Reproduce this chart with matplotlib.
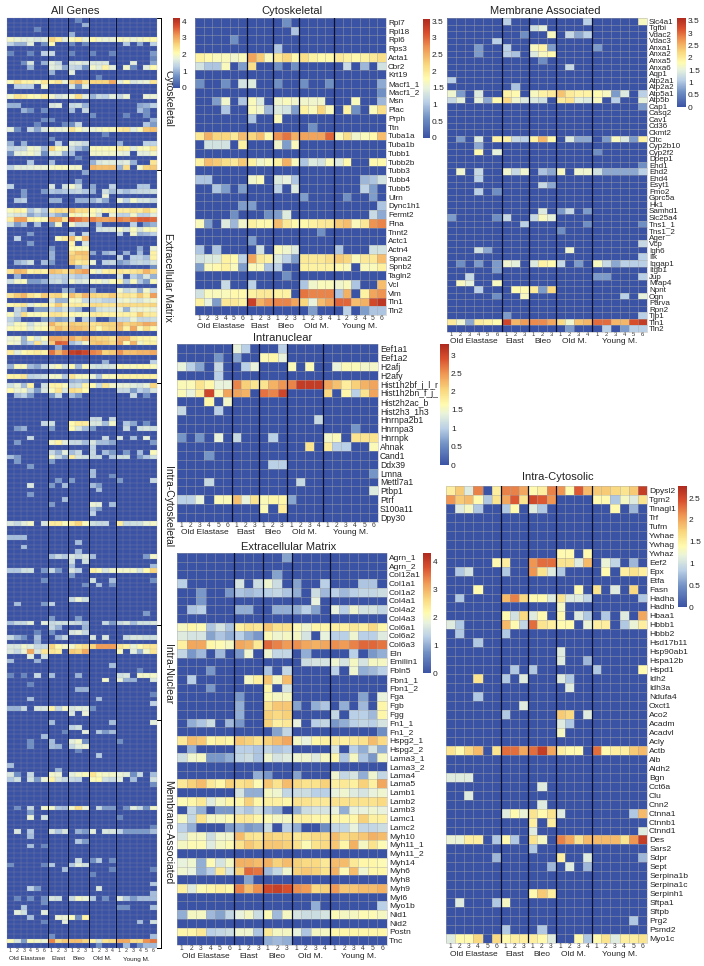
import matplotlib
matplotlib.use('Agg')
import matplotlib.pyplot as plt
from matplotlib.colors import LinearSegmentedColormap, Normalize
from matplotlib.transforms import Bbox
import numpy as np

plt.rcParams['font.family'] = ['Liberation Sans', 'DejaVu Sans']

W, H = 704, 966
Z = [0] * 22

group_names = ['Old Elastase', 'Elast', 'Bleo', 'Old M.', 'Young M.']
group_sizes = [6, 3, 3, 4, 6]

cyto_genes = ['Rpl7', 'Rpl18', 'Rpl6', 'Rps3', 'Acta1', 'Cbr2', 'Krt19', 'Macf1_1', 'Macf1_2', 'Msn', 'Plac',
              'Prph', 'Ttn', 'Tuba1a', 'Tuba1b', 'Tubb1', 'Tubb2b', 'Tubb3', 'Tubb4', 'Tubb5', 'Ulrn', 'Dync1h1',
              'Fermt2', 'Flna', 'Tnnt2', 'Actc1', 'Actn4', 'Spna2', 'Spnb2', 'Tagln2', 'Vcl', 'Vim', 'Tln1', 'Tln2']
cyto_values = [
    [0,0,0,0,0,0, 0,0,0, 0,.6,0, 0,0,0,0, 0,0,0,0,0,0],
    [0,0,0,0,0,0, 0,0,0, 0,0,1.0, 0,0,0,0, 0,0,0,0,0,0],
    [0,0,0,0,.6,0, 0,0,0, 0,0,0, 0,0,0,0, 0,0,0,0,0,0],
    [0,0,0,0,0,0, 0,0,0, 1.0,0,0, 0,0,0,0, 0,0,0,0,0,0],
    [1.9,1.8,1.7,1.7,1.6,1.7, 2.6,2.3,1.7, 2.0,2.2,1.8, 2.1,1.9,1.8,1.8, 2.0,1.9,1.8,1.9,2.0,2.1],
    [1.3,1.0,1.0,1.7,0,.7, 2.1,0,0, .6,0,.6, 0,0,0,0, 0,1.2,0,.9,0,1.3],
    Z,
    [.6,0,0,.6,0,1.3, 1.4,0,0, .6,0,0, .6,0,0,.6, 0,0,0,0,0,.8],
    [0,0,0,0,0,0, 0,0,0, 0,0,0, 0,0,0,0, 0,0,0,0,0,.6],
    [0,0,.7,1.6,0,1.0, 1.7,1.4,0, 1.6,1.7,1.6, 1.6,1.6,1.6,0, 0,0,1.7,0,0,.9],
    [0,0,0,1.0,0,0, 1.7,1.6,.9, 1.4,1.3,.7, 1.9,1.7,2.2,1.7, 0,1.9,.6,0,1.7,2.1],
    [0,0,0,0,0,0, 1.0,0,0, 1.7,0,0, 0,0,0,0, 0,0,0,0,0,0],
    [0,0,0,0,0,0, 0,0,0, 0,0,0, 0,.6,0,0, 0,0,0,0,0,0],
    [2.0,2.5,2.2,2.2,2.0,2.4, 2.2,2.4,1.8, 2.7,2.9,2.5, 2.6,2.6,2.6,3.0, 1.7,2.1,1.6,1.7,1.8,2.4],
    [0,1.3,1.3,1.3,0,1.9, 0,0,0, 1.6,.7,1.7, 0,0,0,0, 0,0,0,0,0,0],
    Z,
    [1.9,2.4,2.3,2.1,2.0,2.3, 1.9,1.6,1.7, 1.9,2.5,1.7, 1.0,1.4,1.3,1.7, 1.4,1.8,0,0,1.8,1.8],
    Z,
    [1.0,1.0,0,0,0,0, 1.6,1.7,0, 1.4,1.5,1.0, 0,0,0,0, 0,0,0,.9,1.0,1.3],
    [0,0,1.0,.7,0,.7, 0,0,0, 1.1,0,1.4, 0,0,0,0, 0,0,0,1.1,.7,0],
    [0,0,0,0,0,0, 0,0,0, 0,0,0, .7,0,0,0, 0,.6,0,0,.7,0],
    [0,0,0,0,0,.7, .7,0,0, 0,0,0, 0,0,0,0, 0,0,0,0,0,1.0],
    [0,0,0,0,.6,0, 0,0,.6, .7,1.4,0, 0,0,0,0, 0,0,0,0,1.2,.8],
    [1.7,.7,0,1.4,.9,1.6, 1.9,1.8,1.8, 2.4,2.0,1.8, 1.8,1.9,2.0,2.0, 2.3,2.4,1.7,2.0,2.7,2.8],
    [0,0,0,0,0,0, 0,0,0, 0,0,0, 0,0,.6,0, 0,0,0,0,0,0],
    [0,0,0,0,0,0, .7,0,0, 0,0,0, 0,0,0,0, 0,0,0,0,0,0],
    [1.0,0,1.0,0,0,0, 0,1.3,0, 1.7,1.6,1.4, 0,0,0,0, 1.0,0,0,0,1.3,1.3],
    [1.3,1.4,1.4,1.9,1.8,1.1, 2.6,2.0,1.9, 1.4,1.1,.7, 2.0,2.0,2.0,2.1, 2.3,2.2,1.7,2.0,2.0,2.4],
    [.7,1.7,1.8,1.9,1.7,.7, 1.7,1.7,1.0, 1.1,0,0, 1.9,1.9,1.9,1.9, 1.8,1.7,0,1.7,1.7,1.9],
    [0,0,0,0,0,0, 0,0,0, 0,.6,0, 0,0,0,0, 0,0,0,0,0,0],
    [0,0,0,1.2,0,0, 1.1,0,0, 0,0,0, 1.0,1.6,1.7,1.7, 1.6,1.7,1.0,0,0,2.4],
    [1.3,1.7,1.7,1.7,1.8,1.8, 1.9,2.0,2.0, 1.9,1.9,0, 2.9,2.8,2.8,2.8, 1.0,2.5,0,1.9,2.6,2.7],
    [1.9,1.5,.7,2.0,2.0,1.9, 3.3,2.5,2.7, 2.8,2.8,2.6, 2.2,1.5,2.4,2.6, 3.0,3.0,2.4,2.5,3.2,3.4],
    [0,0,0,0,0,0, 0,0,0, 0,0,0, 0,.7,0,0, 0,1.1,0,.7,1.0,1.0],
]

ecm_genes = ['Agrn_1', 'Agrn_2', 'Col12a1', 'Col1a1', 'Col1a2', 'Col4a1', 'Col4a2', 'Col4a3', 'Col6a1', 'Col6a2',
             'Col6a3', 'Eln', 'Emilin1', 'Fbln5', 'Fbn1_1', 'Fbn1_2', 'Fga', 'Fgb', 'Fgg', 'Fn1_1', 'Fn1_2',
             'Hspg2_1', 'Hspg2_2', 'Lama3_1', 'Lama3_2', 'Lama4', 'Lama5', 'Lamb1', 'Lamb2', 'Lamb3', 'Lamc1',
             'Lamc2', 'Myh10', 'Myh11_1', 'Myh11_2', 'Myh14', 'Myh6', 'Myh8', 'Myh9', 'Myl6', 'Myo1b', 'Nid1',
             'Nid2', 'Postn', 'Tnc']
ecm_values = [
    [0,0,0,0,0,0, 0,0,0, 0,0,.9, 0,0,0,0, 0,0,0,0,0,0],
    Z,
    [0,0,0,0,0,0, 0,0,0, 0,.9,0, 0,0,0,0, 0,0,0,0,0,0],
    [1.3,0,0,0,0,0, 1.6,0,1.5, 1.9,1.5,0, .9,0,0,1.3, 0,0,0,1.2,1.2,0],
    [0,0,.8,0,0,.8, 1.2,1.1,1.2, 1.3,1.4,1.2, 1.0,0,1.5,1.1, 1.3,1.1,1.3,1.4,1.4,1.5],
    [0,0,.8,0,0,0, 0,0,0, 0,0,0, 0,0,1.8,0, 0,0,0,0,0,0],
    [0,1.2,1.3,0,0,0, 1.0,1.0,0, 0,1.0,1.0, 1.0,1.3,.9,0, 1.8,1.3,1.9,1.6,1.6,1.4],
    Z,
    [2.0,2.2,2.1,1.2,1.6,1.2, 2.3,2.5,2.4, 2.8,2.5,2.5, 2.1,1.9,2.2,2.2, 2.3,2.3,2.4,2.3,2.6,2.2],
    [1.7,1.6,1.6,.9,1.2,1.0, 1.3,1.0,.8, 2.1,1.9,2.0, 2.0,1.6,0,1.8, 1.3,1.3,1.9,1.3,1.3,1.7],
    [2.3,3.1,3.1,2.2,2.1,2.0, 3.1,3.0,2.4, 3.6,3.4,3.2, 3.3,3.1,3.0,3.1, 3.3,3.2,3.4,3.6,3.6,3.5],
    [1.4,.8,1.1,0,1.1,0, .8,1.9,0, 1.9,1.4,1.4, 0,1.0,0,0, 0,0,1.3,0,.8,1.0],
    [0,0,0,0,0,0, 0,0,0, 0,0,0, 0,1.5,1.6,1.6, 1.9,1.6,2.0,1.6,2.0,2.0],
    [0,0,0,.8,0,0, 0,0,0, 1.2,0,1.4, 0,0,0,0, 1.3,0,1.9,1.0,1.1,1.3],
    [0,1.3,0,0,0,0, 0,2.0,2.3, 2.8,2.0,2.9, 0,0,0,0, 0,0,0,0,0,0],
    [0,0,0,.8,0,0, 0,0,0, 2.2,0,1.6, 0,0,0,0, 0,0,0,0,0,0],
    [0,0,0,0,0,0, .8,0,0, 2.1,2.0,2.0, 0,0,0,0, 0,0,0,.9,0,1.8],
    [0,0,0,0,0,0, 1.0,0,0, 2.5,2.8,2.8, .9,0,1.0,1.2, 0,1.0,0,1.1,0,2.2],
    [0,0,0,0,0,0, 1.0,0,0, 2.7,2.6,2.7, 0,0,0,0, 1.4,0,1.3,1.3,1.1,2.2],
    [0,1.0,1.2,1.5,0,1.1, .8,0,0, 2.7,2.3,2.4, 1.8,0,1.3,1.4, .8,1.0,1.3,1.4,1.3,1.6],
    [0,0,0,0,0,0, 0,0,0, 0,.9,1.4, 0,0,0,0, 0,0,0,0,0,.7],
    [2.4,2.9,2.8,2.2,2.3,2.2, 2.8,2.7,2.5, 2.7,2.9,3.1, 2.0,1.8,2.2,2.3, 2.4,2.3,2.4,2.5,2.9,2.6],
    [0,1.0,0,0,0,0, 1.3,1.3,1.2, 1.4,1.2,1.3, 0,0,0,0, 1.6,0,1.3,1.0,1.6,1.0],
    [1.5,1.9,2.0,.8,.8,1.0, 1.4,1.5,1.2, 1.9,1.6,1.7, 1.9,1.9,1.7,2.0, 2.2,1.2,2.0,1.2,.8,2.0],
    Z,
    [0,0,0,0,0,0, 0,0,1.0, .8,0,0, .9,0,0,0, 1.9,1.4,1.6,1.0,1.9,1.4],
    [2.4,2.7,2.9,2.4,2.2,2.7, 2.5,2.6,2.1, 2.8,2.5,2.9, 2.6,2.5,2.5,2.7, 2.3,2.4,2.3,2.7,2.3,3.1],
    [0,0,0,0,0,0, 1.6,1.0,1.0, 2.0,1.9,1.4, 1.5,1.5,1.3,1.3, 1.8,1.9,1.7,1.6,1.8,1.9],
    [2.1,2.2,2.4,1.7,2.0,2.2, 2.2,2.7,2.2, 2.3,2.3,2.2, 2.5,2.5,2.4,2.4, 2.5,2.5,2.5,2.5,2.5,2.6],
    [0,1.4,1.0,0,.8,.8, 1.4,1.2,1.5, 1.2,1.0,0, 1.0,1.5,1.6,1.6, 1.8,1.0,1.8,1.8,1.9,1.8],
    [2.0,1.4,2.5,2.0,2.0,2.1, 2.4,2.4,2.2, 2.1,2.0,2.0, 2.3,2.3,2.2,2.2, 2.2,2.2,2.2,2.7,2.3,2.3],
    [1.3,1.0,0,0,0,.8, 1.0,.8,.9, 1.5,0,1.3, 1.0,0,0,.7, 1.4,1.4,1.8,1.4,1.4,1.5],
    [1.6,2.0,2.0,1.5,1.9,1.9, 2.9,2.5,2.4, 2.7,2.6,2.6, 2.4,2.5,2.6,2.6, 2.9,2.6,2.7,2.8,3.0,2.9],
    [2.0,2.1,2.1,1.7,2.0,2.1, 2.5,2.8,2.6, 2.8,2.8,2.7, 2.5,2.1,2.5,2.6, 2.8,2.2,3.0,2.0,2.5,2.1],
    Z,
    [1.8,1.9,1.0,2.1,1.6,2.0, 3.0,3.0,2.9, 3.0,2.7,2.9, 2.7,2.6,2.6,2.4, 2.9,2.9,2.4,2.2,2.2,2.1],
    [1.9,1.8,1.0,1.3,2.4,1.6, 2.7,3.6,3.5, 1.1,1.4,1.9, 2.7,2.8,2.7,2.5, 3.0,2.1,2.9,1.9,2.2,2.2],
    [0,0,0,0,0,0, 0,.9,0, 0,0,0, 0,0,0,0, 0,0,0,0,0,0],
    [2.3,1.7,2.1,2.2,2.3,2.2, 3.4,2.9,3.3, 3.9,4.0,3.8, 3.3,3.2,2.6,2.7, 3.2,2.8,2.8,2.9,2.9,3.0],
    Z,
    [0,0,0,0,0,0, 0,0,0, 0,0,0, 0,0,1.0,0, 0,0,0,0,0,1.3],
    [1.0,2.0,2.0,1.1,.9,1.4, 1.8,2.0,1.5, 2.1,1.1,2.0, 1.6,1.5,1.5,1.6, 2.1,2.0,2.0,2.1,2.1,2.0],
    Z,
    [2.2,2.2,2.4,1.3,1.4,1.5, 1.9,1.9,1.2, 2.4,2.0,2.0, 1.8,1.2,2.0,2.0, 2.2,2.2,2.2,2.2,2.2,2.2],
    [0,0,0,0,0,0, 0,0,0, 1.0,1.1,1.0, 0,0,0,0, 0,0,0,0,0,0],
]

cytosol_genes = ['Dpysl2', 'Tgm2', 'Tinagl1', 'Trf', 'Tufm', 'Ywhae', 'Ywhag', 'Ywhaz', 'Eef2', 'Epx', 'Etfa', 'Fasn',
                 'Hadha', 'Hadhb', 'Hbaa1', 'Hbbb1', 'Hbbb2', 'Hsd17b11', 'Hsp90ab1', 'Hspa12b', 'Hspd1', 'Idh2',
                 'Idh3a', 'Ndufa4', 'Oxct1', 'Aco2', 'Acadm', 'Acadvl', 'Acly', 'Actb', 'Alb', 'Aldh2', 'Bgn',
                 'Cct6a', 'Clu', 'Cnn2', 'Ctnna1', 'Ctnnb1', 'Ctnnd1', 'Des', 'Sars2', 'Sdpr', 'Sept', 'Serpina1b',
                 'Serpina1c', 'Serpinh1', 'Sftpa1', 'Sftpb', 'Prg2', 'Psmd2', 'Myo1c']
cytosol_values = [
    [1.5,1.8,1.1,2.2,0,1.5, 2.2,2.2,2.0, 1.4,1.5,2.2, 2.1,1.4,2.4,1.9, 1.8,1.8,1.7,1.6,1.8,2.6],
    [2.1,1.8,1.9,1.4,.8,1.6, 2.0,2.4,1.6, 2.5,2.4,2.1, 0,0,0,0, 1.4,1.4,.8,1.3,1.1,1.6],
    [0,1.1,1.3,.8,0,0, .8,1.4,0, 1.1,.8,0, 0,0,0,0, 0,0,1.4,0,.7,0],
    Z, Z, Z, Z,
    [0,0,0,0,0,0, 0,0,0, 0,0,0, 1.4,1.4,0,1.4, 0,0,0,0,0,0],
    [0,0,0,0,0,1.4, 1.5,0,0, 2.1,2.3,2.3, 1.6,1.6,1.1,1.9, 0,1.2,.9,0,.7,0],
    [0,.8,1.0,0,0,0, .8,0,0, 2.1,1.6,1.1, .8,0,0,0, 0,1.4,0,1.5,1.6,1.5],
    Z,
    [0,0,0,1.4,0,0, 0,0,0, 0,0,0, 0,0,1.4,0, 1.6,0,1.1,0,1.7,0],
    [0,.8,0,0,0,0, 1.9,2.2,1.7, 1.4,1.4,1.1, 1.6,1.1,1.1,.9, 0,0,0,0,0,.8],
    [0,0,0,0,0,0, 0,0,0, 0,0,0, 1.3,0,0,0, 0,0,0,0,0,0],
    [0,0,0,0,0,0, 1.4,1.0,1.7, 1.1,1.4,0, 1.4,0,1.1,.8, 0,.8,0,1.1,0,2.0],
    [1.1,.8,0,0,0,0, 1.9,1.4,.9, 2.3,1.6,1.5, 1.4,1.4,0,1.2, 1.5,1.5,0,.8,1.2,1.5],
    [0,.8,0,0,0,0, .8,0,0, 0,0,0, 0,0,0,0, 0,0,0,0,0,0],
    [0,0,0,.8,0,0, 0,0,0, 0,0,0, 0,0,0,0, 0,0,0,0,0,0],
    [0,0,0,0,0,0, 0,0,0, 0,0,0, 1.1,0,0,0, 0,0,0,0,0,0],
    [0,0,0,0,0,0, 0,0,0, 0,0,0, 1.1,0,0,.7, 0,0,0,0,0,0],
    [0,0,0,0,0,0, 0,.8,0, .8,0,0, 0,0,0,0, .8,0,0,0,0,1.4],
    [0,0,0,1.6,0,0, .8,0,1.1, 0,0,0, 1.1,.8,0,0, 0,0,0,0,0,0],
    [0,0,0,0,0,0, 0,0,0, 0,0,0, 0,1.1,0,0, 0,0,0,0,0,0],
    [0,0,0,.8,0,0, 0,0,0, 0,0,0, 0,0,0,0, 0,0,0,0,0,0],
    [0,0,0,0,0,0, 0,0,1.1, 0,0,0, 0,0,0,0, 0,0,0,0,0,0],
    [0,0,0,0,0,0, .8,0,0, 0,0,0, 1.8,1.7,0,1.1, 0,0,0,0,0,0],
    [0,0,0,0,0,0, 0,0,0, 0,0,0, 1.1,.8,0,0, 0,0,0,0,0,0],
    [0,0,0,0,0,0, 0,0,0, 0,0,0, 1.3,0,0,0, 0,0,0,0,0,0],
    Z,
    [1.6,1.4,1.7,1.9,0,1.6, 2.3,2.3,2.0, 2.3,2.6,2.0, 1.5,1.4,1.4,0, 2.3,1.4,1.5,1.5,1.8,1.9],
    Z, Z,
    [1.1,1.1,1.1,0,0,0, 0,0,0, 0,0,0, 0,0,0,0, 0,0,0,0,0,0],
    [0,0,0,0,0,0, 0,0,0, 0,1.1,0, 0,0,0,0, 0,0,0,0,0,0],
    [0,0,1.1,0,0,0, 0,0,0, 0,0,0, 0,0,0,0, 0,0,0,0,0,0],
    [0,0,0,0,0,0, 0,0,0, 0,1.1,0, 0,0,0,0, 0,0,0,0,0,0],
    [0,0,0,0,0,0, 1.1,1.4,1.2, 1.6,1.4,1.6, 1.1,0,0,0, 0,0,0,0,.8,1.9],
    [0,0,0,0,0,0, 0,0,0, 1.5,0,1.5, 0,0,0,0, 0,0,0,0,0,0],
    [0,0,0,0,0,0, 0,0,0, 1.1,0,0, 0,0,0,0, 0,0,0,0,0,1.1],
    [1.2,1.2,1.5,1.5,0,.8, 1.4,.8,0, 1.6,1.3,0, 2.2,2.0,1.6,1.9, 1.9,1.9,1.9,1.6,2.1,2.6],
    [0,0,0,0,0,0, 0,0,0, .8,0,0, 0,0,0,0, 0,0,0,0,0,0],
    [0,0,0,0,0,.7, 0,0,0, 0,0,0, 1.5,0,0,1.1, 0,0,0,0,0,.7],
    [0,0,0,0,0,0, 0,0,0, 0,0,.7, 0,1.1,0,.7, 0,0,0,0,0,0],
    Z, Z,
    [0,0,0,0,0,0, 0,0,0, 1.4,1.8,1.5, 0,0,0,0, 0,0,0,0,0,0],
    [0,1.1,0,0,0,.8, 1.3,0,0, 0,0,0, 0,0,0,0, 0,0,0,0,0,0],
    Z,
    [0,0,0,0,0,0, 0,0,0, 0,0,0, 0,0,0,0, 0,0,0,0,.8,0],
    [0,0,0,0,0,0, .8,0,0, 0,.8,0, 0,0,0,0, 0,0,0,0,0,0],
    [1.1,1.4,1.4,1.7,0,1.7, 1.4,1.5,1.5, 1.5,1.4,1.1, 0,0,1.4,.8, 1.4,1.6,1.1,1.5,1.5,1.6],
]

nuclear_genes = ['Eef1a1', 'Eef1a2', 'H2afj', 'H2afy', 'Hist1h2bf_j_l_n', 'Hist1h2bn_f_j_l', 'Hist2h2ac_b',
                 'Hist2h3_1h3', 'Hnrnpa2b1', 'Hnrnpa3', 'Hnrnpk', 'Ahnak', 'Cand1', 'Ddx39', 'Lmna', 'Mettl7a1',
                 'Ptbp1', 'Ptrf', 'S100a11', 'Dpy30']
nuclear_values = [
    [0,0,0,0,0,0, 1.4,1.0,0, 0,0,1.0, 0,0,0,0, 0,0,0,0,0,0],
    [0,0,0,0,.6,0, .7,0,0, 1.6,1.7,1.4, 0,0,0,0, 0,0,0,0,0,0],
    [1.4,1.0,.7,0,1.1,0, 0,1.0,1.4, 0,0,0, 1.6,0,1.6,0, 0,1.4,1.6,1.6,1.5,1.5],
    [0,0,0,0,1.0,0, 0,0,0, 0,0,0, 0,0,0,0, 0,0,0,0,0,0],
    [1.6,1.6,1.9,1.7,1.4,1.4, 2.6,2.1,1.9, 1.9,2.3,2.5, 2.6,3.1,3.1,3.1, 2.4,2.2,1.8,2.1,2.3,2.4],
    [1.6,1.4,1.8,3.0,1.6,2.4, 2.4,2.3,0, 2.7,2.6,3.0, 0,0,0,0, 2.0,0,1.7,1.0,1.9,2.4],
    [0,0,0,1.7,0,1.5, 0,0,0, 0,0,0, 0,0,0,0, 0,0,0,0,0,0],
    [1.1,0,0,0,1.0,0, 0,0,0, 0,0,0, 0,0,0,0, 0,0,0,0,0,0],
    [0,0,0,0,0,0, 0,0,0, 0,0,0, 0,0,0,1.1, 0,0,0,0,0,0],
    [0,0,0,0,0,0, 0,0,0, 0,0,0, 0,0,0,0, 0,0,0,.6,0,0],
    [.6,0,.6,0,1.4,0, 1.1,0,0, 0,1.0,0, 0,0,0,0, 1.5,1.6,0,1.9,1.9,1.9],
    [0,0,0,0,0,0, 0,0,0, 0,0,0, 0,0,1.9,0, 1.8,1.0,1.0,0,0,1.6],
    [0,0,0,.6,0,0, 0,0,0, 0,0,0, 0,0,0,0, 0,0,0,0,0,0],
    [0,0,0,0,0,0, 0,0,0, 0,1.0,1.0, 0,0,0,0, 0,0,0,0,0,0],
    [0,0,0,0,0,0, 0,0,0, 0,0,0, 0,0,0,0, 0,0,0,0,0,.6],
    [0,0,0,1.1,0,0, 0,0,0, 0,0,0, 0,1.1,0,0, 0,0,0,0,0,0],
    [0,0,0,0,0,0, 0,0,0, 0,0,0, 0,0,0,0, 0,0,0,0,0,1.3],
    [1.0,1.0,1.4,0,1.6,1.6, 2.2,1.4,1.9, 1.6,1.7,1.7, .7,0,0,0, 0,0,0,0,0,0],
    [0,0,0,0,0,0, 0,0,0, 1.6,0,1.8, 0,0,0,0, 0,0,0,0,0,0],
    Z,
]

membrane_genes = ['Slc4a1', 'Tgfbi', 'Vdac2', 'Vdac3', 'Anxa1', 'Anxa2', 'Anxa5', 'Anxa6', 'Aqp1', 'Atp2a1', 'Atp2a2',
                  'Atp5a1', 'Atp5b', 'Cap1', 'Casq2', 'Cav1', 'Cd36', 'Ckmt2', 'Cltc', 'Cyp2b10', 'Cyp2f2', 'Dpep1',
                  'Ehd1', 'Ehd2', 'Ehd4', 'Esyt1', 'Fmo2', 'Gprc5a', 'Hk1', 'Samhd1', 'Slc25a4', 'Tns1_1', 'Tns1_2',
                  'Ager', 'Vcp', 'Igh6', 'Ilk', 'Iqgap1', 'Itgb1', 'Jup', 'Mfap4', 'Npnt', 'Ogn', 'Parva', 'Rpn2',
                  'Tjp1', 'Tln1', 'Tln2']
membrane_values = [
    [0,0,0,0,0,0, 1.1,0,0, 0,0,0, 0,0,0,1.1, 0,0,0,0,0,1.7],
    [0,0,0,0,0,0, 0,0,0, 1.3,1.5,0, 0,0,0,0, 0,0,0,0,0,0],
    [0,0,0,0,0,0, 0,0,.6, 0,0,1.7, 0,1.2,.8,1.1, 0,0,0,0,0,0],
    [0,0,0,0,0,1.1, 0,0,0, 0,0,0, 0,0,0,0, 0,0,0,0,0,0],
    [0,0,0,.7,0,0, 1.1,0,0, 1.7,1.9,.7, 0,0,0,0, .7,0,0,0,0,0],
    [0,0,0,.7,0,0, 1.1,1.0,0, 1.4,1.7,1.8, 0,0,0,0, 0,0,0,0,0,0],
    [0,0,0,0,0,0, 0,0,0, 0,.6,0, 0,0,0,0, 0,0,0,0,0,0],
    [0,0,0,0,0,0, 0,0,0, 0,0,0, 0,1.2,0,0, 0,0,0,0,0,0],
    Z,
    [1.1,0,0,0,0,0, 0,0,0, 0,0,0, 0,0,0,0, 0,0,0,0,0,0],
    [0,0,0,0,0,0, 0,1.0,0, 0,0,0, 0,0,0,0, 0,0,0,0,0,0],
    [1.6,.7,0,1.4,0,0, 1.9,1.8,0, 1.7,1.9,2.0, 2.4,2.0,1.9,1.9, 1.8,1.7,.7,1.4,0,1.1],
    [1.2,1.5,0,1.5,.8,1.8, 2.2,1.6,1.4, 1.4,1.3,0, 2.0,2.1,1.5,1.4, 1.7,0,1.1,0,0,1.5],
    [0,0,0,0,0,0, 0,0,0, 0,0,0, 0,0,0,0, 0,0,0,0,0,.7],
    Z, Z, Z, Z,
    [0,.7,0,1.4,0,1.9, 1.9,1.2,1.1, 1.9,2.5,1.8, 0,1.4,.8,.8, 0,.7,1.7,1.4,.7,1.9],
    [0,0,0,.8,0,0, 0,0,0, 0,0,0, 0,0,0,0, 0,0,0,0,0,0],
    [0,0,0,1.8,0,1.5, 0,0,0, 0,0,0, 0,0,0,0, .6,0,0,0,0,0],
    Z,
    [0,0,0,0,0,0, 0,0,0, 0,0,0, 0,0,0,0, 0,0,0,0,0,.6],
    [0,1.6,0,1.2,0,0, 1.6,1.2,1.6, 0,1.0,.8, 1.7,0,1.6,1.6, 1.3,.8,.8,.8,.8,1.1],
    [0,0,0,1.1,0,0, 0,0,0, 0,0,0, 0,0,0,0, 0,0,0,0,0,0],
    [0,0,0,0,0,0, 0,0,0, 0,1.2,.8, 0,0,0,0, 0,0,0,0,0,0],
    [0,0,0,1.1,0,.6, 0,0,0, 0,0,0, 0,0,0,0, 0,0,0,0,0,0],
    Z, Z,
    [0,0,0,0,0,0, 0,0,0, 0,1.4,0, .7,1.2,0,.7, 0,0,0,0,0,0],
    [.7,0,0,0,0,.6, 1.2,0,0, 1.2,1.7,1.5, 0,0,0,0, 0,0,0,0,0,0],
    [0,0,0,0,0,0, 0,0,1.1, 0,0,0, 0,0,0,.6, 0,0,0,0,0,.6],
    [0,0,0,0,0,0, 0,0,0, 0,0,0, .6,0,0,0, 0,0,0,0,0,0],
    Z,
    [0,0,0,0,0,0, 0,0,0, 0,0,0, 0,0,0,0, 0,0,0,0,0,1.2],
    [0,0,0,1.3,.8,0, 0,0,0, 0,0,0, 0,1.6,0,0, 0,0,0,0,0,0],
    [0,0,0,0,0,0, 0,0,0, 0,0,0, 0,0,0,0, 0,0,0,0,0,1.1],
    [0,.6,0,.7,0,.7, 1.6,1.5,0, 1.4,1.9,1.8, 1.2,0,.7,0, 1.7,1.2,.8,1.1,1.1,1.1],
    [0,0,0,0,0,.7, 0,0,0, 0,0,0, 0,0,0,0, 0,0,0,0,0,0],
    [0,0,1.2,0,0,0, 0,0,0, 0,0,0, 0,0,0,0, .7,.7,0,0,0,1.1],
    [0,1.7,1.5,0,0,1.7, 0,0,0, 0,0,0, 0,0,0,0, 0,0,0,0,0,0],
    [0,0,0,1.1,0,0, 0,1.8,1.8, 2.0,.7,2.2, 0,0,0,0, 0,0,0,0,0,0],
    [0,0,0,0,0,.6, 0,0,1.7, 0,0,0, 0,0,0,0, 0,0,0,1.1,0,1.5],
    Z, Z,
    [0,0,0,0,0,0, .7,0,0, 0,0,0, 0,0,0,0, 0,0,0,0,0,1.1],
    [2.0,1.6,.8,2.0,1.9,1.8, 3.3,2.5,2.7, 2.8,2.8,2.6, 2.2,1.6,2.4,2.5, 3.0,3.0,2.5,2.5,3.2,3.4],
    [0,0,0,0,0,0, 0,0,0, 0,0,0, 0,.7,0,0, 0,1.1,0,.7,1.1,1.1],
]

cyto_ticks = [0, .5, 1, 1.5, 2, 2.5, 3, 3.5]
ecm_ticks = [0, 1, 2, 3, 4]
cytosol_ticks = [0, .5, 1, 1.5, 2, 2.5]
nuclear_ticks = [0, .5, 1, 1.5, 2, 2.5, 3]
membrane_ticks = [0, .5, 1, 1.5, 2, 2.5, 3, 3.5]
all_ticks = [0, 1, 2, 3, 4]

cmap = LinearSegmentedColormap.from_list('heat', [
    (0, '#3B53A4'), (.167, '#6F8FC4'), (.3, '#B9CFE6'), (.42, '#E8F2DC'), (.5, '#FFFBB0'),
    (.62, '#F9D77E'), (.75, '#F09A55'), (.88, '#D9502E'), (1, '#AE2A1E')])

fig = plt.figure(figsize=(W / 100, H / 100), dpi=100)


def px_axes(x0, y0, x1, y1):
    return fig.add_axes([x0 / W, 1 - y1 / H, (x1 - x0) / W, (y1 - y0) / H])


def heatmap(box, values, genes, vmax, gridw=.4, numsize=4.8, groupsize=6, genesize=5.9, group_off=11, linew=.9):
    ax = px_axes(*box)
    data = np.array(values, dtype=float)
    m = ax.pcolormesh(data, cmap=cmap, norm=Normalize(0, vmax), antialiased=False)
    ax.set_ylim(len(data), 0)
    ax.set_xlim(0, 22)
    # thin grey cell borders, kept apart from the mesh so they stay faint
    ax.hlines(np.arange(len(data) + 1), 0, 22, color='#a6a6a6', lw=gridw, alpha=.75, clip_on=False)
    ax.vlines(np.arange(23), 0, len(data), color='#a6a6a6', lw=gridw, alpha=.75, clip_on=False)
    for s in ax.spines.values():
        s.set_visible(False)
    ax.set_xticks(np.arange(22) + .5)
    ax.set_xticklabels([str(i + 1) for n in group_sizes for i in range(n)])
    ax.tick_params(axis='x', length=0, labelsize=numsize, pad=.2, colors='#333333')
    if genes is not None:
        ax.yaxis.tick_right()
        ax.set_yticks(np.arange(len(genes)) + .5)
        ax.set_yticklabels(genes)
        ax.tick_params(axis='y', length=0, labelsize=genesize, pad=1.5, colors='#222222')
    else:
        ax.set_yticks([])
    # black lines between the sample groups
    pos = 0
    for name, n in zip(group_names, group_sizes):
        ax.annotate(name, (pos + n / 2, 0), xycoords=('data', 'axes fraction'),
                    xytext=(0, -group_off * .72), textcoords='offset points',
                    ha='center', va='center', fontsize=groupsize, color='#222222')
        pos += n
        if pos < 22:
            ax.axvline(pos, color='#0a0f30', lw=linew)
    return ax, m


def colorbar(box, m, ticks, size=6):
    cax = px_axes(*box)
    cb = fig.colorbar(m, cax=cax, ticks=ticks)
    cb.outline.set_visible(False)
    cb.ax.set_yticklabels([f'{t:g}' for t in ticks])
    cb.ax.tick_params(length=0, labelsize=size, pad=1.5, colors='#222222')


page = fig.add_axes([0, 0, 1, 1], zorder=-1)
page.set_xlim(0, W)
page.set_ylim(H, 0)
page.axis('off')

# All Genes is the five panels stacked on one colour range (Tln1/Tln2 only once)
all_values = np.vstack([cyto_values[:-2], ecm_values, cytosol_values, nuclear_values, membrane_values])
ax_all, m_all = heatmap((7, 18, 157, 948), all_values, None, 4.18, gridw=.2, numsize=3.8, groupsize=4.6, linew=.7)

ax, m = heatmap((195, 18, 386, 315), cyto_values, cyto_genes, 3.56)
colorbar((423, 19, 430, 138), m, cyto_ticks)
colorbar((173, 18, 180, 88), m_all, all_ticks)

ax, m = heatmap((447, 18, 647, 332), membrane_values, membrane_genes, 3.62, genesize=5.8, numsize=4.2, group_off=9.5)
colorbar((677, 18, 686, 107), m, membrane_ticks)

ax, m = heatmap((177, 344, 378, 522), nuclear_values, nuclear_genes, 3.3, genesize=6.2)
colorbar((440, 344, 449, 465), m, nuclear_ticks)
# long histone names run into the colour bar
for lab in ax.get_yticklabels():
    lab.set_clip_box(Bbox([[0, 0], [438, H]]))
    lab.set_clip_on(True)

ax, m = heatmap((177, 553, 387, 945), ecm_values, ecm_genes, 4.29, genesize=6.1)
colorbar((423, 553, 431, 673), m, ecm_ticks)

ax, m = heatmap((446, 486, 647, 943), cytosol_values, cytosol_genes, 2.78, genesize=6.1)
colorbar((678, 486, 687, 607), m, cytosol_ticks)

titles = [('All Genes', 75, 11), ('Cytoskeletal', 292, 11), ('Membrane Associated', 545, 11),
          ('Intranuclear', 283, 338), ('Extracellular Matrix', 289, 547), ('Intra-Cytosolic', 558, 477)]
for t, x, y in titles:
    page.text(x, y, t, ha='center', va='center', fontsize=8, color='#222222')

# bracket next to All Genes
bracket_y = [18, 170, 383, 625, 720, 948]
page.plot([161, 161], [bracket_y[0], bracket_y[-1]], color='k', lw=.7)
for y in bracket_y:
    page.plot([157, 161], [y, y], color='k', lw=.7)
side_labels = [('Cytoskeletal', 98), ('Extracellular Matrix', 277), ('Intra-Cytoskeletal', 507),
               ('Intra-Nuclear', 674), ('Membrane-Associated', 832)]
for t, y in side_labels:
    page.text(168, y, t, rotation=270, ha='center', va='center', fontsize=7.5, color='#222222')

fig.savefig('out.png', dpi=100)
